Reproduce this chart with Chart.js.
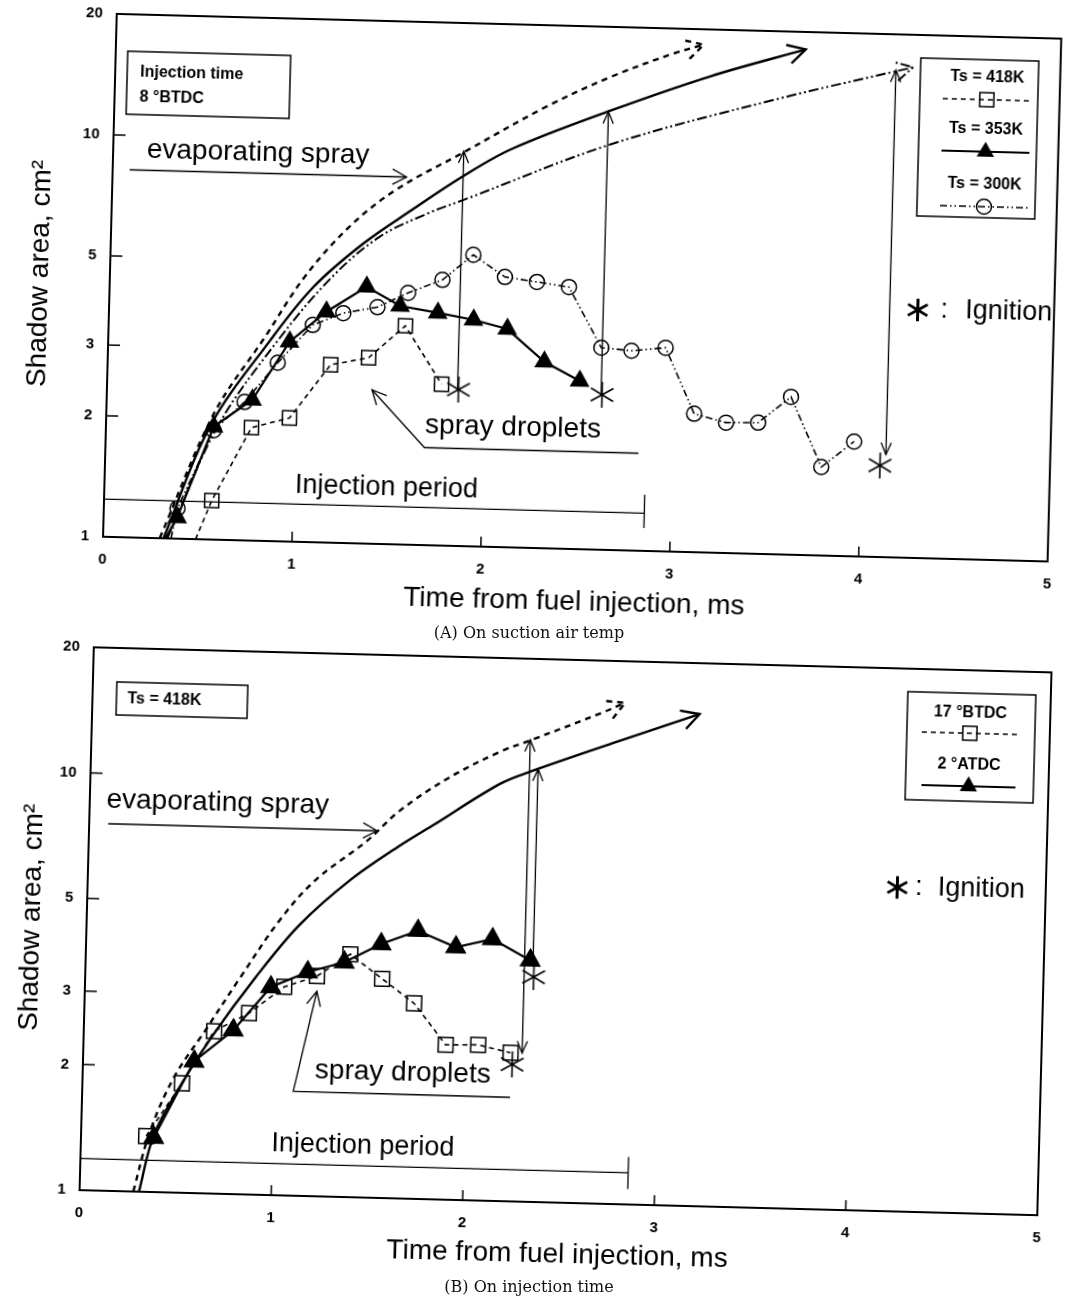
<!DOCTYPE html>
<html>
<head>
<meta charset="utf-8">
<script src="https://cdn.jsdelivr.net/npm/chart.js@4.4.1/dist/chart.umd.min.js"></script>
<style>
  html, body { margin: 0; padding: 0; background: #fff; width: 1072px; height: 1301px; overflow: hidden; }
  canvas { position: absolute; left: 0; transform: rotate(1.5deg); transform-origin: 536px 315px; }
  #chartA { top: 0; }
  #chartB { top: 636px; }
  .cap { position: absolute; left: 0; width: 1058px; text-align: center; font-family: 'DejaVu Serif', serif; font-size: 16px; color: #111; }
</style>
</head>
<body>
<canvas id="chartA" width="1072" height="630"></canvas>
<div class="cap" style="top:623px">(A) On suction air temp</div>
<canvas id="chartB" width="1072" height="650"></canvas>
<div class="cap" style="top:1277px">(B) On injection time</div>

<script>
const FONT = "'Liberation Sans', Arial, sans-serif";

const xTicks = [0, 1, 2, 3, 4, 5];
const yTicks = [1, 2, 3, 5, 10, 20];

// ---- (A) suction air temperature, injection 8 °BTDC ----
// first point of each measured line is where it leaves the axis (no marker)
const a418T = [0.49, 0.57, 0.77, 0.97, 1.18, 1.38, 1.57, 1.77];
const a418S = [1.0, 1.25, 1.91, 2.03, 2.77, 2.90, 3.50, 2.52];
const a353T = [0.33, 0.39, 0.57, 0.77, 0.96, 1.15, 1.36, 1.54, 1.74, 1.93, 2.11, 2.31, 2.50];
const a353S = [1.0, 1.13, 1.91, 2.24, 3.14, 3.75, 4.35, 3.92, 3.79, 3.66, 3.49, 2.91, 2.62];
const a300T = [0.36, 0.39, 0.57, 0.73, 0.90, 1.08, 1.24, 1.42, 1.58, 1.76, 1.92, 2.09, 2.26, 2.43, 2.61, 2.77, 2.95, 3.11, 3.28, 3.45, 3.62, 3.79, 3.96];
const a300S = [1.0, 1.19, 1.87, 2.21, 2.78, 3.47, 3.73, 3.88, 4.23, 4.58, 5.31, 4.70, 4.59, 4.48, 3.18, 3.14, 3.21, 2.21, 2.11, 2.12, 2.47, 1.66, 1.93];

// evaporating spray envelopes
const aEvap418T = [0.30, 0.57, 0.83, 1.03, 1.26, 1.50, 1.85, 2.28, 2.62, 2.96, 3.11];
const aEvap418S = [1.0, 2.06, 3.22, 4.56, 6.12, 7.61, 9.51, 12.5, 15.0, 17.4, 18.3];
const aEvap353T = [0.32, 0.55, 0.86, 1.08, 1.34, 1.59, 1.85, 2.11, 2.63, 3.15, 3.65];
const aEvap353S = [1.0, 1.91, 3.17, 4.32, 5.59, 6.81, 8.29, 9.8, 12.4, 15.3, 18.1];
const aEvap300T = [0.34, 0.59, 0.90, 1.17, 1.42, 1.68, 1.86, 2.63, 3.49, 4.22];
const aEvap300S = [1.0, 1.91, 3.17, 4.55, 5.80, 6.71, 7.26, 10.2, 13.5, 16.6];

// ignition
const aIgnT = [1.86, 2.62, 4.10];
const aIgnS = [2.45, 2.43, 1.69];
const aArrT = [1.855, 2.615, 4.13];
const aArrLow = [2.45, 2.43, 1.80];
const aArrHigh = [9.6, 12.3, 16.3];
const aArrBoth = [false, false, true];
// injection period: end time, level, end-tick low, end-tick high
const aInj = [2.86, 1.24, 1.14, 1.38];

// ---- (B) injection time, Ts = 418K ----
const b17T = [0.34, 0.52, 0.68, 0.86, 1.04, 1.21, 1.38, 1.55, 1.72, 1.89, 2.06, 2.23];
const b17S = [1.36, 1.83, 2.45, 2.72, 3.16, 3.37, 3.82, 3.35, 2.94, 2.35, 2.36, 2.27];
const b2T = [0.38, 0.58, 0.78, 0.97, 1.16, 1.35, 1.54, 1.73, 1.93, 2.12, 2.32];
const b2S = [1.35, 2.07, 2.47, 3.15, 3.44, 3.65, 4.06, 4.39, 4.03, 4.24, 3.79];

const bEvap17T = [0.28, 0.36, 0.48, 0.63, 0.81, 1.01, 1.19, 1.45, 1.62, 1.87, 2.13, 2.30, 2.66, 2.78];
const bEvap17S = [1.0, 1.40, 1.90, 2.44, 3.31, 4.58, 5.73, 7.14, 8.50, 10.25, 11.9, 12.8, 15.0, 15.9];
const bEvap2T = [0.31, 0.38, 0.51, 0.67, 0.89, 1.11, 1.37, 1.62, 1.79, 2.14, 2.31, 2.74, 3.17];
const bEvap2S = [1.0, 1.37, 1.80, 2.38, 3.32, 4.45, 5.75, 6.98, 7.85, 10.0, 10.8, 12.8, 15.1];

const bIgnT = [2.24, 2.34];
const bIgnS = [2.13, 3.46];
const bArrT = [2.29, 2.335];
const bArrLow = [2.27, 3.75];
const bArrHigh = [12.8, 10.9];
const bArrBoth = [true, false];
const bInj = [2.86, 1.19, 1.09, 1.30];


const STYLES = {
	sq:  { dash: [5, 4], width: 1.6, point: 'rect', r: 10, fill: 'rgba(0,0,0,0)' },
	tri: { dash: [], width: 2.2, point: 'triangle', r: 10, fill: '#000' },
	cir: { dash: [7, 3, 1.5, 3, 1.5, 3], width: 1.6, point: 'circle', r: 7.5, fill: 'rgba(0,0,0,0)' }
};
const EVAP = {
	sq:  { dash: [6, 5], width: 2.4 },
	tri: { dash: [], width: 2.4 },
	cir: { dash: [10, 3, 2, 3, 2, 3], width: 2 }
};

function pts(xs, ys) {
	return xs.map((x, i) => ({ x: x, y: ys[i] }));
}

function starImage(s) {
	const cv = document.createElement("canvas");
	cv.width = cv.height = s;
	const g = cv.getContext("2d");
	g.strokeStyle = "#000";
	g.lineWidth = 1.6;
	const c = s / 2, r = s / 2 - 1;
	for (let k = 0; k < 3; k++) {
		const ang = Math.PI / 2 + k * Math.PI / 3;
		g.beginPath();
		g.moveTo(c + r * Math.cos(ang), c + r * Math.sin(ang));
		g.lineTo(c - r * Math.cos(ang), c - r * Math.sin(ang));
		g.stroke();
	}
	return cv;
}
const STAR = starImage(28);

function lineSet(xs, ys, kind, lead, r) {
	const st = STYLES[kind];
	const rad = r || st.r;
	return {
		data: pts(xs, ys),
		showLine: true,
		borderColor: "#000",
		borderWidth: st.width,
		borderDash: st.dash,
		pointStyle: st.point,
		pointBorderColor: "#000",
		pointBorderWidth: 1.5,
		pointBackgroundColor: st.fill,
		pointRadius: (c) => (lead && c.dataIndex === 0 ? 0 : rad),
		tension: 0
	};
}

function evapSet(xs, ys, kind) {
	const st = EVAP[kind];
	return {
		data: pts(xs, ys),
		showLine: true,
		borderColor: "#000",
		borderWidth: st.width,
		borderDash: st.dash,
		pointRadius: 0,
		tension: 0.35,
		head: true
	};
}

function starSet(xs, ys) {
	return { data: pts(xs, ys), showLine: false, pointStyle: STAR, pointRadius: 14 };
}

// ---- drawing helpers ----
function line(ctx, x1, y1, x2, y2) {
	ctx.beginPath();
	ctx.moveTo(x1, y1);
	ctx.lineTo(x2, y2);
	ctx.stroke();
}
function poly(ctx, p) {
	ctx.beginPath();
	ctx.moveTo(p[0][0], p[0][1]);
	for (let i = 1; i < p.length; i++) ctx.lineTo(p[i][0], p[i][1]);
	ctx.stroke();
}
function head(ctx, x, y, ang, len, sp) {
	ctx.beginPath();
	ctx.moveTo(x - len * Math.cos(ang - sp), y - len * Math.sin(ang - sp));
	ctx.lineTo(x, y);
	ctx.lineTo(x - len * Math.cos(ang + sp), y - len * Math.sin(ang + sp));
	ctx.stroke();
}
function text(ctx, s, x, y, font, align) {
	ctx.font = font + " " + FONT;
	ctx.textAlign = align || "center";
	ctx.textBaseline = "middle";
	ctx.fillText(s, x, y);
}
function mark(ctx, kind, x, y, r) {
	ctx.save();
	ctx.setLineDash([]);
	ctx.lineWidth = 1.5;
	ctx.beginPath();
	if (kind === "sq") {
		const h = r * Math.SQRT1_2;
		ctx.rect(x - h, y - h, 2 * h, 2 * h);
		ctx.stroke();
	} else if (kind === "tri") {
		for (let k = 0; k < 3; k++) {
			const a = -Math.PI / 2 + k * 2 * Math.PI / 3;
			ctx[k ? "lineTo" : "moveTo"](x + r * Math.cos(a), y + r * Math.sin(a));
		}
		ctx.closePath();
		ctx.fill();
	} else {
		ctx.arc(x, y, r, 0, Math.PI * 2);
		ctx.stroke();
	}
	ctx.restore();
}
function legendRow(ctx, label, cx, ty, ly, half, kind) {
	text(ctx, label, cx, ty, "bold 16px", "center");
	ctx.setLineDash(STYLES[kind].dash);
	ctx.lineWidth = kind === "tri" ? 2.2 : 1.6;
	line(ctx, cx - half, ly, cx + half, ly);
	ctx.setLineDash([]);
	mark(ctx, kind, cx, ly, kind === "cir" ? 7.5 : 10);
}
function ignition(ctx, sx, y, colonX, wordX) {
	// thin six-spoke asterisk (sextile sign turned upright)
	ctx.save();
	ctx.translate(sx, y);
	ctx.rotate(Math.PI / 2);
	ctx.font = "40px 'DejaVu Sans', sans-serif";
	ctx.textAlign = "center";
	ctx.textBaseline = "middle";
	ctx.fillText("⚹", 0, 0);
	ctx.restore();
	text(ctx, ":", colonX, y, "27px", "center");
	text(ctx, "Ignition", wordX, y, "27px", "left");
}

function drawA(ctx) {
	ctx.lineWidth = 1.5;
	ctx.strokeRect(121, 62, 163, 63);
	text(ctx, "Injection time", 134, 83, "bold 16px", "left");
	text(ctx, "8 °BTDC", 134, 108, "bold 16px", "left");

	text(ctx, "evaporating spray", 254, 160, "28px", "center");
	ctx.lineWidth = 1.3;
	line(ctx, 126, 180.5, 403, 180.5);
	head(ctx, 403, 180.5, 0, 16, 0.5);

	text(ctx, "spray droplets", 516, 428, "28px", "center");
	poly(ctx, [[642, 450.5], [428, 450.5], [374, 394]]);
	head(ctx, 374, 394, Math.atan2(394 - 450.5, 374 - 428), 16, 0.45);

	text(ctx, "Injection period", 391, 492, "27px", "center");

	ctx.lineWidth = 1.5;
	ctx.strokeRect(914, 48, 118, 158);
	legendRow(ctx, "Ts = 418K", 981, 66, 88, 44, "sq");
	legendRow(ctx, "Ts = 353K", 981, 118, 140, 44, "tri");
	legendRow(ctx, "Ts = 300K", 981, 173, 195, 44, "cir");

	ignition(ctx, 917, 300, 944, 965);
}

function drawB(ctx) {
	ctx.lineWidth = 1.5;
	ctx.strokeRect(110, 57, 131, 33);
	text(ctx, "Ts = 418K", 121, 74, "bold 16px", "left");

	text(ctx, "evaporating spray", 214, 175, "28px", "center");
	ctx.lineWidth = 1.3;
	line(ctx, 105, 199, 374, 199);
	head(ctx, 374, 199, 0, 16, 0.5);

	text(ctx, "spray droplets", 406, 440, "28px", "center");
	poly(ctx, [[514, 462], [297, 461.5], [318, 361]]);
	head(ctx, 318, 361, Math.atan2(361 - 461.5, 318 - 297), 16, 0.45);

	text(ctx, "Injection period", 368, 515, "27px", "center");

	ctx.lineWidth = 1.5;
	ctx.strokeRect(901, 46, 128, 108);
	legendRow(ctx, "17 °BTDC", 964, 66, 86, 48, "sq");
	legendRow(ctx, "2 °ATDC", 964, 118, 139, 47, "tri");

	ignition(ctx, 895, 242, 917, 936);
}

function decor(c) {
	return {
		id: "decor",
		afterDraw(chart) {
			const { ctx, chartArea: a, scales: { x, y } } = chart;
			ctx.save();
			ctx.strokeStyle = "#000";
			ctx.fillStyle = "#000";

			// frame + inward ticks
			ctx.lineWidth = 2;
			ctx.strokeRect(a.left, a.top, a.right - a.left, a.bottom - a.top);
			ctx.lineWidth = 1.5;
			xTicks.slice(1, -1).forEach((v) => {
				const px = x.getPixelForValue(v);
				line(ctx, px, a.bottom, px, a.bottom - 10);
			});
			yTicks.slice(1, -1).forEach((v) => {
				const py = y.getPixelForValue(v);
				line(ctx, a.left, py, a.left + 12, py);
			});

			// open arrow heads at the end of the spray envelopes
			chart.data.datasets.forEach((ds, i) => {
				if (!ds.head) return;
				const el = chart.getDatasetMeta(i).data;
				const p = el[el.length - 1], q = el[el.length - 2];
				ctx.setLineDash(ds.borderDash);
				ctx.lineWidth = ds.borderWidth;
				head(ctx, p.x, p.y, Math.atan2(p.y - q.y, p.x - q.x), 20, 0.5);
			});
			ctx.setLineDash([]);

			// ignition arrows
			ctx.lineWidth = 1.3;
			c.arrT.forEach((t, i) => {
				const px = x.getPixelForValue(t);
				const lo = y.getPixelForValue(c.arrLow[i]);
				const hi = y.getPixelForValue(c.arrHigh[i]);
				line(ctx, px, lo, px, hi);
				head(ctx, px, hi, -Math.PI / 2, 13, 0.4);
				if (c.arrBoth[i]) head(ctx, px, lo, Math.PI / 2, 13, 0.4);
			});

			// injection period bar
			const ix = x.getPixelForValue(c.inj[0]);
			const iy = y.getPixelForValue(c.inj[1]);
			line(ctx, a.left, iy, ix, iy);
			line(ctx, ix, y.getPixelForValue(c.inj[2]), ix, y.getPixelForValue(c.inj[3]));

			c.draw(ctx);
			ctx.restore();
		}
	};
}

function makeChart(id, c) {
	const tickFont = { family: FONT, size: 15, weight: "bold" };
	return new Chart(document.getElementById(id), {
		type: "scatter",
		data: { datasets: c.datasets },
		options: {
			responsive: false,
			animation: false,
			devicePixelRatio: 1,
			events: [],
			layout: { padding: c.pad },
			plugins: { legend: { display: false }, tooltip: { enabled: false } },
			scales: {
				x: {
					type: "linear",
					min: 0,
					max: 5,
					afterBuildTicks: (s) => { s.ticks = xTicks.map((v) => ({ value: v })); },
					afterFit: (s) => { s.height = c.xH; },
					ticks: { color: "#000", font: tickFont, padding: 14, maxRotation: 0 },
					grid: { display: false, drawTicks: false },
					border: { display: true, color: "#000", width: 2 },
					title: { display: true, text: "Time from fuel injection, ms", color: "#000", font: { family: FONT, size: 28 }, padding: 0 }
				},
				y: {
					type: "logarithmic",
					min: 1,
					max: 20,
					afterBuildTicks: (s) => { s.ticks = yTicks.map((v) => ({ value: v })); },
					afterFit: (s) => { s.width = c.yW; },
					ticks: { color: "#000", font: tickFont, padding: 14, autoSkip: false, callback: (v) => String(v) },
					grid: { display: false, drawTicks: false },
					border: { display: true, color: "#000", width: 2 },
					title: { display: true, text: "Shadow area, cm²", color: "#000", font: { family: FONT, size: 28 }, padding: 0 }
				}
			}
		},
		plugins: [decor(c)]
	});
}

makeChart("chartA", {
	datasets: [
		starSet(aIgnT, aIgnS),
		lineSet(a353T, a353S, "tri", true),
		lineSet(a418T, a418S, "sq", true),
		lineSet(a300T, a300S, "cir", true),
		evapSet(aEvap418T, aEvap418S, "sq"),
		evapSet(aEvap353T, aEvap353S, "tri"),
		evapSet(aEvap300T, aEvap300S, "cir")
	],
	pad: { left: 22, right: 6, top: 25, bottom: 12 },
	xH: 70,
	yW: 87,
	arrT: aArrT, arrLow: aArrLow, arrHigh: aArrHigh, arrBoth: aArrBoth,
	inj: aInj,
	draw: drawA
});

makeChart("chartB", {
	datasets: [
		starSet(bIgnT, bIgnS),
		lineSet(b2T, b2S, "tri", false, 11),
		lineSet(b17T, b17S, "sq", false, 10.5),
		evapSet(bEvap17T, bEvap17S, "sq"),
		evapSet(bEvap2T, bEvap2S, "tri")
	],
	pad: { left: 14, right: 28, top: 18, bottom: 15 },
	xH: 69,
	yW: 72,
	arrT: bArrT, arrLow: bArrLow, arrHigh: bArrHigh, arrBoth: bArrBoth,
	inj: bInj,
	draw: drawB
});
</script>
</body>
</html>
